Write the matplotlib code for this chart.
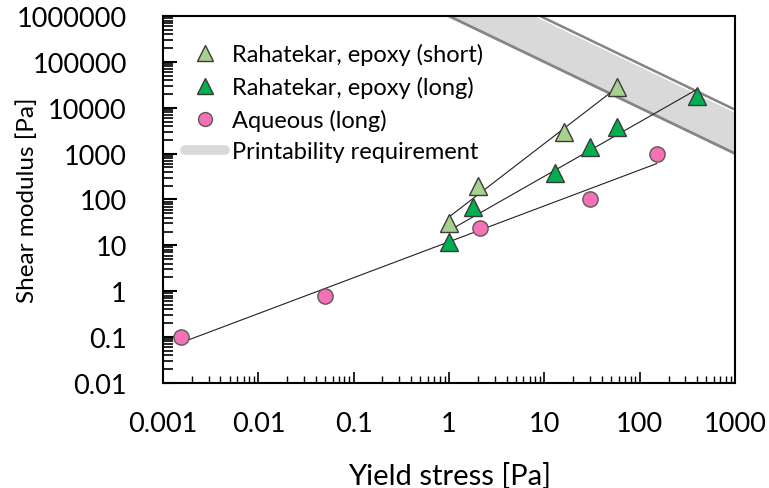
import numpy as np
import matplotlib
matplotlib.use("Agg")
import matplotlib.pyplot as plt
from matplotlib.lines import Line2D
from matplotlib.ticker import FuncFormatter, NullFormatter

plt.rcParams['font.family'] = ['Lato', 'DejaVu Sans']

# yield stress [Pa] and shear modulus [Pa]
short_tau = [1.0, 2.0, 16.0, 57.0]
short_g = [30, 200, 3000, 28000]

long_tau = [1.0, 1.8, 13.0, 30.0, 58.0, 400.0]
long_g = [12, 69, 380, 1400, 3800, 18000]

aq_tau = [0.00155, 0.05, 2.1, 30.0, 150.0]
aq_g = [0.1, 0.8, 24, 100, 1000]

# printability band: G*tau between these limits
band_lo = 1e6
band_hi = 9e6

xticks = [0.001, 0.01, 0.1, 1, 10, 100, 1000]
yticks = [0.01, 0.1, 1, 10, 100, 1000, 10000, 100000, 1000000]

C_SHORT = "#a9d18e"
C_LONG = "#00b050"
C_AQ = "#f570b4"


def power_fit(x, y):
    lx, ly = np.log10(x), np.log10(y)
    k, b = np.polyfit(lx, ly, 1)
    xs = np.logspace(lx.min(), lx.max(), 50)
    return xs, 10 ** (b + k * np.log10(xs))


def minors(majors):
    return [m * d for d in majors[:-1] for m in range(2, 10)]


def fmt(v, pos):
    if v >= 1:
        return "%d" % round(v)
    return ("%.6f" % v).rstrip("0")


fig = plt.figure(figsize=(7.69, 4.89), dpi=100)
ax = fig.add_axes([0.212, 0.215, 0.744, 0.75])
ax.set_xscale("log")
ax.set_yscale("log")

# printability band
bx = np.logspace(-3, 3, 100)
ax.fill_between(bx, band_lo / bx, band_hi / bx, color="#d9d9d9", lw=0, zorder=1)
ax.plot(bx, band_lo / bx, color="#858585", lw=2, zorder=2)
ax.plot(bx, band_hi / bx, color="#858585", lw=2, zorder=2)
ax.plot(bx, band_hi * 0.9 / bx, color="white", lw=1, zorder=2)

# trend lines
for x, y in [(short_tau, short_g), (long_tau, long_g), (aq_tau, aq_g)]:
    xs, ys = power_fit(np.array(x), np.array(y))
    ax.plot(xs, ys, color="#202020", lw=0.8, zorder=3)

ax.plot(short_tau, short_g, "^", ms=13, mfc=C_SHORT, mec="#3a3a3a", mew=1, ls="none", zorder=4)
ax.plot(long_tau, long_g, "^", ms=13, mfc=C_LONG, mec="#3a3a3a", mew=1, ls="none", zorder=4)
ax.plot(aq_tau, aq_g, "o", ms=11, mfc=C_AQ, mec="#5a5a5a", mew=1, ls="none", zorder=4)

ax.set_xticks(xticks)
ax.set_yticks(yticks)
ax.set_xticks(minors(xticks), minor=True)
ax.set_yticks(minors(yticks), minor=True)
ax.xaxis.set_major_formatter(FuncFormatter(fmt))
ax.yaxis.set_major_formatter(FuncFormatter(fmt))
ax.xaxis.set_minor_formatter(NullFormatter())
ax.yaxis.set_minor_formatter(NullFormatter())
ax.set_xlim(0.001, 1000)
ax.set_ylim(0.01, 1e6)

ax.tick_params(which="both", direction="in", labelsize=19.5, color="black")
ax.tick_params(axis="x", which="major", length=8, width=1.2, pad=20)
ax.tick_params(axis="x", which="minor", length=5, width=1)
ax.tick_params(axis="y", which="major", length=10, width=1.5, pad=26)
ax.tick_params(axis="y", which="minor", length=7, width=1.2)
for s in ax.spines.values():
    s.set_linewidth(1.5)

ax.set_xlabel("Yield stress [Pa]", fontsize=21, labelpad=19)
ax.set_ylabel("Shear modulus [Pa]", fontsize=17.5)
ax.yaxis.set_label_coords(-0.219, 0.5)

handles = [
    Line2D([], [], marker="^", ls="none", ms=11, mfc=C_SHORT, mec="#3a3a3a", mew=1),
    Line2D([], [], marker="^", ls="none", ms=11, mfc=C_LONG, mec="#3a3a3a", mew=1),
    Line2D([], [], marker="o", ls="none", ms=10, mfc=C_AQ, mec="#5a5a5a", mew=1),
    Line2D([], [], color="#d9d9d9", lw=7, solid_capstyle="round"),
]
labels = ["Rahatekar, epoxy (short)", "Rahatekar, epoxy (long)",
          "Aqueous (long)", "Printability requirement"]
ax.legend(handles, labels, loc="upper left", bbox_to_anchor=(0.0385, 0.926),
          frameon=False, fontsize=17, handlelength=1.7, handletextpad=0.3,
          labelspacing=0.45, borderaxespad=0, borderpad=0)

fig.savefig("out.png", dpi=100)
